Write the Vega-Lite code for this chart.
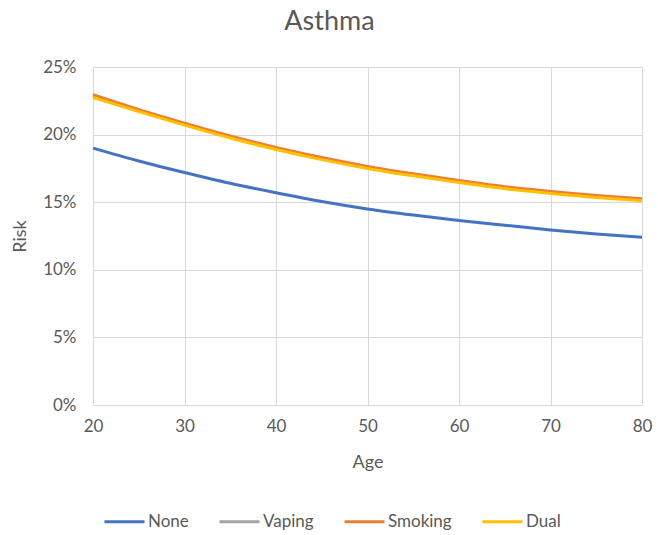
{
  "$schema": "https://vega.github.io/schema/vega-lite/v6.json",
  "autosize": {"type": "none"},
  "width": 549,
  "height": 338,
  "padding": {"left": 93, "top": 67, "right": 16, "bottom": 130},
  "background": "white",
  "config": {
    "font": "Lato",
    "view": {"stroke": null},
    "axis": {"labelColor": "#595959", "titleColor": "#595959", "labelFontSize": 17, "titleFontSize": 18, "titleFontWeight": "normal", "gridColor": "#d9d9d9", "ticks": false}
  },
  "title": {"text": "Asthma", "fontSize": 27, "fontWeight": "normal", "color": "#595959", "anchor": "middle", "dx": -38, "offset": 22},
  "data": {
    "values": [
      {"age": 20, "None": 0.190, "Vaping": 0.2285, "Smoking": 0.2295, "Dual": 0.2275},
      {"age": 25, "None": 0.1805, "Vaping": 0.2178, "Smoking": 0.2185, "Dual": 0.2170},
      {"age": 30, "None": 0.172, "Vaping": 0.2078, "Smoking": 0.2085, "Dual": 0.2070},
      {"age": 35, "None": 0.164, "Vaping": 0.1983, "Smoking": 0.1990, "Dual": 0.1975},
      {"age": 40, "None": 0.157, "Vaping": 0.1898, "Smoking": 0.1905, "Dual": 0.1890},
      {"age": 45, "None": 0.1505, "Vaping": 0.1823, "Smoking": 0.1830, "Dual": 0.1815},
      {"age": 50, "None": 0.145, "Vaping": 0.1758, "Smoking": 0.1765, "Dual": 0.1750},
      {"age": 55, "None": 0.1405, "Vaping": 0.1703, "Smoking": 0.1710, "Dual": 0.1695},
      {"age": 60, "None": 0.1365, "Vaping": 0.1653, "Smoking": 0.1660, "Dual": 0.1645},
      {"age": 65, "None": 0.133, "Vaping": 0.1608, "Smoking": 0.1615, "Dual": 0.1600},
      {"age": 70, "None": 0.1295, "Vaping": 0.1573, "Smoking": 0.1580, "Dual": 0.1565},
      {"age": 75, "None": 0.1265, "Vaping": 0.1543, "Smoking": 0.1550, "Dual": 0.1535},
      {"age": 80, "None": 0.124, "Vaping": 0.1518, "Smoking": 0.1525, "Dual": 0.1510}
    ]
  },
  "transform": [
    {"fold": ["None", "Vaping", "Smoking", "Dual"], "as": ["series", "risk"]}
  ],
  "mark": {"type": "line", "strokeWidth": 3, "interpolate": "monotone"},
  "encoding": {
    "x": {"field": "age", "type": "quantitative", "title": "Age", "scale": {"domain": [20, 80], "nice": false}, "axis": {"values": [20, 30, 40, 50, 60, 70, 80], "labelFlush": false, "labelPadding": 13, "titlePadding": 19, "domainColor": "#d9d9d9", "grid": true}},
    "y": {"field": "risk", "type": "quantitative", "title": "Risk", "scale": {"domain": [0, 0.25], "nice": false}, "axis": {"values": [0, 0.05, 0.1, 0.15, 0.2, 0.25], "format": ".0%", "domain": false, "labelPadding": 17, "titlePadding": 13}},
    "color": {
      "field": "series", "type": "nominal",
      "scale": {"domain": ["None", "Vaping", "Smoking", "Dual"], "range": ["#4472c4", "#a5a5a5", "#ed7d31", "#ffc000"]},
      "legend": {"title": null, "orient": "none", "direction": "horizontal", "legendX": 10, "legendY": 433, "symbolType": "stroke", "symbolSize": 1600, "symbolStrokeWidth": 3, "labelFontSize": 17, "labelColor": "#595959", "columnPadding": 24, "labelOffset": 2}
    },
    "order": {"field": "series", "sort": "descending"}
  }
}
